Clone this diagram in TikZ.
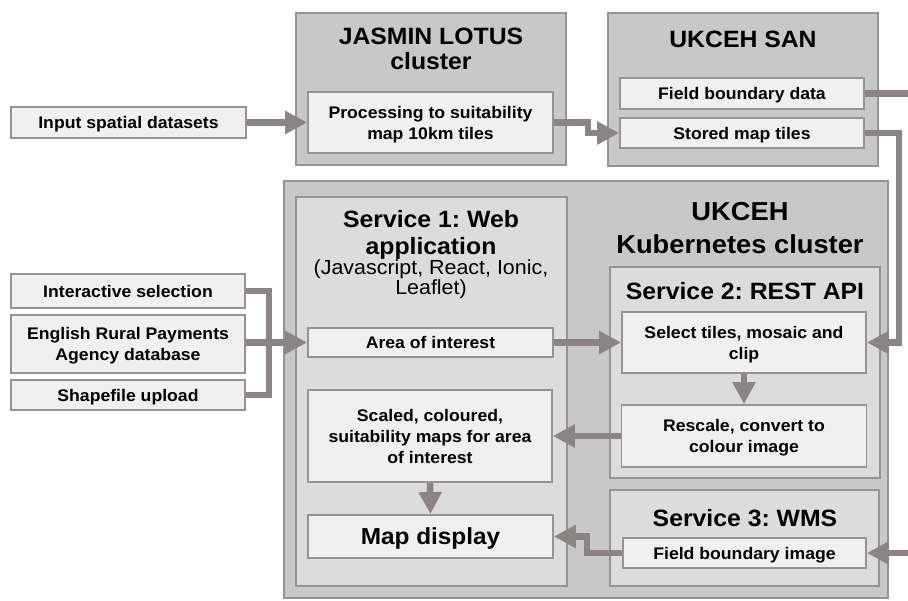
\documentclass[tikz,border=0pt]{standalone}
\usepackage{fontspec}
\setmainfont{Liberation Sans}[FakeStretch=1.05]
\usetikzlibrary{arrows.meta}
\definecolor{outerfill}{HTML}{C8C8C8}
\definecolor{midfill}{HTML}{DCDCDC}
\definecolor{innerfill}{HTML}{F0F0F0}
\definecolor{bordercol}{HTML}{989393}
\definecolor{arrowcol}{HTML}{8A8484}
\frenchspacing
\begin{document}
\begin{tikzpicture}[x=1pt,y=-1pt,
  box/.style={draw=bordercol, line width=1.8pt, rectangle, inner sep=0pt, align=center},
  outerbox/.style={box, fill=outerfill},
  midbox/.style={box, fill=midfill},
  innerbox/.style={box, fill=innerfill, text depth=0pt, font=\fontsize{16.8}{21}\selectfont\bfseries},
  ttl/.style={inner sep=0pt, align=center, font=\fontsize{23.6}{25}\selectfont\bfseries},
  arr/.style={draw=arrowcol, line width=6.5pt, line join=miter, -{Triangle[width=22pt,length=22pt]}},
  conn/.style={draw=arrowcol, line width=6.5pt, line join=miter}
]
\clip (0,0) rectangle (908,601);
\fill[white] (0,0) rectangle (908,601);

% top clusters
\node[outerbox, minimum width=270, minimum height=152] (jas) at (431,89) {};
\node[ttl] (jast) at (431,49) {JASMIN LOTUS\\cluster};
\node[innerbox, minimum width=245, minimum height=61] (proc) at (430.5,122.5) {Processing to suitability\\map 10km tiles};

\node[outerbox, minimum width=270, minimum height=153] (san) at (743,89.5) {};
\node[ttl] (sant) at (743,39) {UKCEH SAN};
\node[innerbox, minimum width=244, minimum height=31] (fbd) at (742,93.5) {Field boundary data};
\node[innerbox, minimum width=244, minimum height=30] (smt) at (742,133) {Stored map tiles};

\node[innerbox, minimum width=235, minimum height=31] (input) at (128.5,122.5) {Input spatial datasets};

% kubernetes cluster
\node[outerbox, minimum width=604, minimum height=417] (kube) at (586,389.5) {};
\node[ttl, font=\fontsize{26}{33}\selectfont\bfseries] (kubet) at (740,228) {UKCEH\\Kubernetes cluster};

\node[midbox, minimum width=271, minimum height=389] (s1) at (431.5,391.5) {};
\node[ttl, font=\fontsize{23.6}{27}\selectfont\bfseries] (s1t) at (431,235) {Service 1: Web\\application};
\node[ttl, font=\fontsize{20.4}{20}\selectfont] (s1s) at (431,279) {(Javascript, React, Ionic,\\Leaflet)};
\node[innerbox, minimum width=245, minimum height=29] (aoi) at (430.5,342.5) {Area of interest};
\node[innerbox, minimum width=244, minimum height=92] (scaled) at (430,436) {Scaled, coloured,\\suitability maps for area\\of interest};
\node[innerbox, minimum width=245, minimum height=43, font=\fontsize{23.2}{26}\selectfont\bfseries] (map) at (430.5,536.5) {Map display};

\node[midbox, minimum width=270, minimum height=211] (s2) at (745,372.5) {};
\node[ttl] (s2t) at (745,291) {Service 2: REST API};
\node[innerbox, minimum width=244, minimum height=61] (sel) at (744,342.5) {Select tiles, mosaic and\\clip};
\node[innerbox, minimum width=245, minimum height=62] (resc) at (744,436) {Rescale, convert to\\colour image};

\node[midbox, minimum width=269, minimum height=96] (s3) at (744.5,538) {};
\node[ttl] (s3t) at (745,518) {Service 3: WMS};
\node[innerbox, minimum width=243, minimum height=30] (fbi) at (744.5,553) {Field boundary image};

% left inputs
\node[innerbox, minimum width=234, minimum height=34] (inter) at (128,291) {Interactive selection};
\node[innerbox, minimum width=234, minimum height=58] (erpa) at (128,344) {English Rural Payments\\Agency database};
\node[innerbox, minimum width=234, minimum height=30] (shp) at (128,395) {Shapefile upload};

% connectors
\draw[arr] (input.east) -- (proc.west);
\draw[arr] (proc.east) -- ++(34,0) |- (smt.west);
\draw[arr] (fbd.east) -- ++(66,0) |- (fbi.east);
\draw[arr] (smt.east) -- ++(34,0) |- (sel.east);
\draw[conn] (inter.east) -- ++(23,0) |- (shp.east);
\draw[arr] (erpa.east |- aoi.west) -- (aoi.west);
\draw[arr] (aoi.east) -- (sel.west);
\draw[arr] (sel.south) -- (resc.north);
\draw[arr] (resc.west) -- (scaled.east);
\draw[arr] (scaled.south) -- (map.north);
\draw[arr] (fbi.west) -- ++(-35,0) |- (map.east);
\end{tikzpicture}
\end{document}
